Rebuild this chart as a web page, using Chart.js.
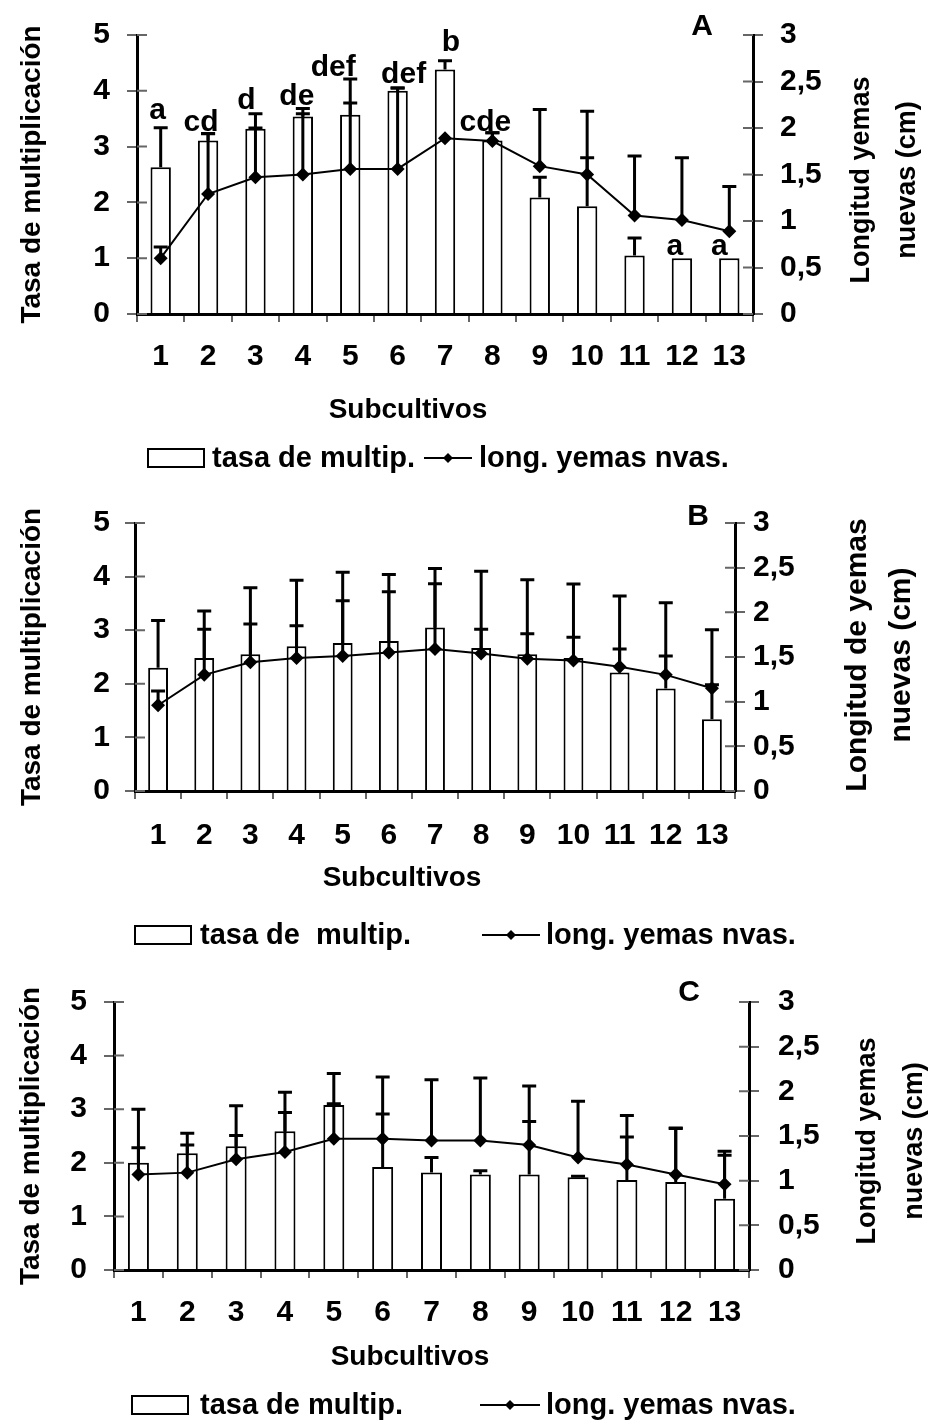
<!DOCTYPE html>
<html>
<head>
<meta charset="utf-8">
<script src="https://cdn.jsdelivr.net/npm/chart.js@4.4.1/dist/chart.umd.min.js"></script>
<style>
  html, body { margin: 0; padding: 0; background: #fff; }
  .panel { position: absolute; left: 0; width: 928px; }
</style>
</head>
<body>
<div class="panel" style="top:0;height:490px"><canvas id="chartA"></canvas></div>
<div class="panel" style="top:490px;height:475px"><canvas id="chartB"></canvas></div>
<div class="panel" style="top:965px;height:460px"><canvas id="chartC"></canvas></div>
<script>
const categories = ['1', '2', '3', '4', '5', '6', '7', '8', '9', '10', '11', '12', '13'];

// panel A
const tasaA = [2.63, 3.11, 3.32, 3.54, 3.57, 4.0, 4.38, 3.11, 2.09, 1.93, 1.05, 1.0, 1.0];
const tasaErrA = [0.71, 0.12, 0.27, 0.05, 0.64, 0.05, 0.16, 0.14, 0.36, 0.87, 0.31, 0, 0];
const longA = [0.6, 1.29, 1.47, 1.5, 1.56, 1.56, 1.89, 1.86, 1.59, 1.5, 1.06, 1.01, 0.89];
const longErrA = [0.12, 0.65, 0.53, 0.71, 0.71, 0.87, 0, 0.09, 0.61, 0.68, 0.64, 0.67, 0.48];
const lettersA = ['a', 'cd', 'd', 'de', 'def', 'def', 'b', 'cde', '', '', '', 'a', 'a'];

// panel B
const tasaB = [2.30, 2.48, 2.55, 2.70, 2.76, 2.80, 3.05, 2.67, 2.55, 2.48, 2.21, 1.91, 1.34];
const tasaErrB = [0.88, 0.88, 1.24, 1.23, 1.32, 1.24, 1.10, 1.43, 1.39, 1.38, 1.43, 1.60, 1.67];
const longB = [0.96, 1.30, 1.44, 1.49, 1.51, 1.55, 1.59, 1.54, 1.48, 1.46, 1.39, 1.30, 1.15];
const longErrB = [0.16, 0.51, 0.43, 0.36, 0.62, 0.68, 0.73, 0.27, 0.28, 0.26, 0.20, 0.21, 0.04];

// panel C
const tasaC = [2.0, 2.18, 2.31, 2.59, 3.08, 1.92, 1.82, 1.78, 1.78, 1.73, 1.68, 1.64, 1.33];
const tasaErrC = [0.28, 0.15, 0.20, 0.35, 0.02, 0.99, 0.28, 0.07, 0.99, 0.02, 0.80, 1.00, 0.81];
const longC = [1.07, 1.09, 1.24, 1.32, 1.47, 1.47, 1.45, 1.45, 1.40, 1.26, 1.18, 1.07, 0.96];
const longErrC = [0.73, 0.44, 0.60, 0.67, 0.73, 0.69, 0.68, 0.70, 0.66, 0.63, 0.55, 0.52, 0.37];

const FONT = "'Liberation Sans', Arial, sans-serif";

// error bars, inner tick marks and all the loose text
const extras = {
  id: 'extras',
  afterDatasetDraw(chart, args) {
    const ds = chart.data.datasets[args.index];
    const sc = chart.scales[ds.yAxisID];
    const ctx = chart.ctx;
    ctx.save();
    ctx.strokeStyle = '#000';
    ctx.lineWidth = 3;
    args.meta.data.forEach((el, j) => {
      const e = ds.err[j];
      if (!e) return;
      const y0 = sc.getPixelForValue(ds.data[j]);
      const y1 = sc.getPixelForValue(ds.data[j] + e);
      ctx.beginPath();
      ctx.moveTo(el.x, y0);
      ctx.lineTo(el.x, y1);
      ctx.moveTo(el.x - 7, y1);
      ctx.lineTo(el.x + 7, y1);
      ctx.stroke();
    });
    ctx.restore();
  },
  afterDraw(chart, args, o) {
    const ctx = chart.ctx;
    const a = chart.chartArea;
    ctx.save();
    // ticks cross the axis: draw the inner half
    ctx.strokeStyle = '#666';
    ctx.lineWidth = 2;
    ctx.beginPath();
    chart.scales.y.ticks.forEach(t => {
      const py = chart.scales.y.getPixelForValue(t.value);
      ctx.moveTo(a.left, py); ctx.lineTo(a.left + 10, py);
    });
    chart.scales.y1.ticks.forEach(t => {
      const py = chart.scales.y1.getPixelForValue(t.value);
      ctx.moveTo(a.right - 10, py); ctx.lineTo(a.right, py);
    });
    ctx.stroke();

    ctx.fillStyle = '#000';
    ctx.textAlign = 'center';
    ctx.textBaseline = 'middle';
    ctx.font = 'bold 28px ' + FONT;
    ctx.fillText('Subcultivos', o.xTitle[0], o.xTitle[1]);
    ctx.font = 'bold 30px ' + FONT;
    ctx.fillText(o.tag[0], o.tag[1], o.tag[2]);
    ctx.font = 'bold ' + o.rtSize + 'px ' + FONT;
    o.rightTitle.forEach((t, i) => {
      ctx.save();
      ctx.translate(o.rightTitleX[i], o.rightTitleY);
      ctx.rotate(-Math.PI / 2);
      ctx.fillText(t, 0, 0);
      ctx.restore();
    });

    // significance letters over the bars
    if (o.letters) {
      const bars = chart.getDatasetMeta(1).data;
      const ds = chart.data.datasets[1];
      ctx.font = 'bold 30px ' + FONT;
      ctx.textBaseline = 'alphabetic';
      bars.forEach((el, j) => {
        if (!o.letters[j]) return;
        const top = chart.scales.y.getPixelForValue(ds.data[j] + ds.err[j]);
        ctx.fillText(o.letters[j], el.x + o.letterDx[j], top - o.letterDy[j]);
      });
    }

    // legend
    const L = o.legend;
    ctx.lineWidth = 2;
    ctx.strokeStyle = '#000';
    ctx.strokeRect(L.box, L.y - 9, 56, 18);
    ctx.font = 'bold ' + L.size + 'px ' + FONT;
    ctx.textAlign = 'left';
    ctx.textBaseline = 'middle';
    ctx.fillText(L.t1, L.t1x, L.y + 1);
    ctx.fillText('long. yemas nvas.', L.t2x, L.y + 1);
    ctx.beginPath();
    ctx.moveTo(L.l1, L.y); ctx.lineTo(L.l2, L.y);
    ctx.stroke();
    const cx = (L.l1 + L.l2) / 2;
    ctx.beginPath();
    ctx.moveTo(cx, L.y - 5); ctx.lineTo(cx + 5, L.y); ctx.lineTo(cx, L.y + 5); ctx.lineTo(cx - 5, L.y);
    ctx.closePath();
    ctx.fill();
    ctx.restore();
  }
};

function makeChart(p) {
  const tickFont = { family: FONT, size: 30, weight: 'bold' };
  const gridOpts = { drawOnChartArea: false, color: '#666', lineWidth: 2, tickLength: 10 };
  return new Chart(document.getElementById(p.id), {
    type: 'bar',
    data: {
      labels: categories,
      datasets: [
        {
          type: 'line',
          label: 'long. yemas nvas.',
          data: p.long,
          err: p.longErr,
          yAxisID: 'y1',
          order: 0,
          borderColor: '#000',
          borderWidth: 2,
          pointStyle: 'rectRot',
          pointRadius: 7,
          pointBackgroundColor: '#000',
          pointBorderColor: '#000',
          pointBorderWidth: 0,
          tension: 0,
          fill: false
        },
        {
          type: 'bar',
          label: 'tasa de multip.',
          data: p.tasa,
          err: p.tasaErr,
          yAxisID: 'y',
          order: 1,
          backgroundColor: '#fff',
          borderColor: '#000',
          borderWidth: 2,
          categoryPercentage: 1,
          barPercentage: 0.43
        }
      ]
    },
    plugins: [extras],
    options: {
      responsive: true,
      maintainAspectRatio: false,
      animation: false,
      layout: { padding: { top: p.area.t, left: 0, right: 0, bottom: 0 } },
      plugins: {
        legend: { display: false },
        tooltip: { enabled: false },
        extras: p
      },
      scales: {
        x: {
          grid: { offset: true, drawOnChartArea: false, color: '#666', lineWidth: 2, tickLength: 8 },
          border: { color: '#000', width: 3 },
          ticks: { color: '#000', font: tickFont, padding: p.xTickPad, maxRotation: 0, autoSkip: false },
          afterFit: s => { s.height = p.h - p.area.b; }
        },
        y: {
          position: 'left',
          min: 0,
          max: 5,
          ticks: { stepSize: 1, color: '#000', font: tickFont, padding: p.yTickPad },
          grid: gridOpts,
          border: { color: '#000', width: 3 },
          title: {
            display: true,
            text: 'Tasa de multiplicación',
            color: '#000',
            font: { family: FONT, size: 28, weight: 'bold' },
            padding: { top: p.yTitlePad, bottom: 0 }
          },
          afterFit: s => { s.width = p.area.l; }
        },
        y1: {
          position: 'right',
          min: 0,
          max: 3,
          ticks: {
            stepSize: 0.5,
            color: '#000',
            font: tickFont,
            padding: p.y1TickPad,
            callback: v => String(v).replace('.', ',')
          },
          grid: gridOpts,
          border: { color: '#000', width: 3 },
          afterFit: s => { s.width = 928 - p.area.r; }
        }
      }
    }
  });
}

makeChart({
  id: 'chartA', h: 490, area: { l: 137, r: 753, t: 34, b: 314 },
  tasa: tasaA, tasaErr: tasaErrA, long: longA, longErr: longErrA, letters: lettersA,
  letterDx: [-3, -7, -9, -6, -17, 6, 6, -7, 0, 0, 0, -7, -10],
  letterDy: [9, 3, 5, 9, 3, 5, 10, 2, 0, 0, 0, 3, 3],
  xTickPad: 17, yTickPad: 17, y1TickPad: 17, yTitlePad: 15,
  xTitle: [408, 410], tag: ['A', 702, 27], rtSize: 27,
  rightTitle: ['Longitud yemas', 'nuevas (cm)'], rightTitleX: [862, 908], rightTitleY: 180,
  legend: { y: 458, size: 29, box: 148, t1: 'tasa de multip.', t1x: 212, l1: 424, l2: 472, t2x: 479 }
});

makeChart({
  id: 'chartB', h: 475, area: { l: 135, r: 735, t: 29, b: 301 },
  tasa: tasaB, tasaErr: tasaErrB, long: longB, longErr: longErrB, letters: null,
  xTickPad: 19, yTickPad: 15, y1TickPad: 8, yTitlePad: 15,
  xTitle: [402, 388], tag: ['B', 698, 27], rtSize: 30,
  rightTitle: ['Longitud de yemas', 'nuevas (cm)'], rightTitleX: [858, 902], rightTitleY: 165,
  legend: { y: 445, size: 29, box: 135, t1: 'tasa de  multip.', t1x: 200, l1: 482, l2: 540, t2x: 546 }
});

makeChart({
  id: 'chartC', h: 460, area: { l: 114, r: 749, t: 27, b: 305 },
  tasa: tasaC, tasaErr: tasaErrC, long: longC, longErr: longErrC, letters: null,
  xTickPad: 17, yTickPad: 17, y1TickPad: 19, yTitlePad: 14,
  xTitle: [410, 392], tag: ['C', 689, 28], rtSize: 27,
  rightTitle: ['Longitud yemas', 'nuevas (cm)'], rightTitleX: [868, 915], rightTitleY: 176,
  legend: { y: 440, size: 29, box: 132, t1: 'tasa de multip.', t1x: 200, l1: 480, l2: 540, t2x: 546 }
});
</script>
</body>
</html>
